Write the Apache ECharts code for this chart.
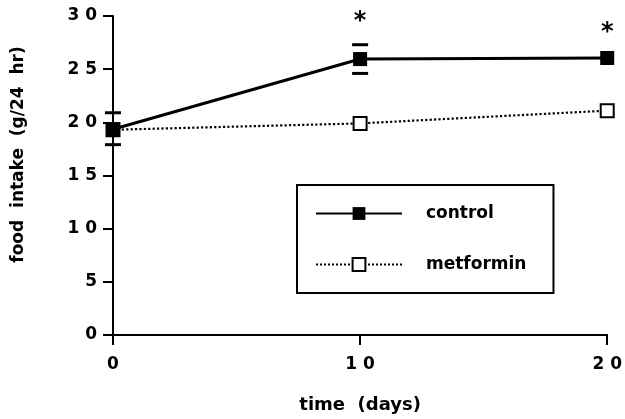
<!DOCTYPE html>
<html>
<head>
<meta charset="utf-8">
<script src="https://cdn.jsdelivr.net/npm/echarts@6/dist/echarts.min.js"></script>
<style>
html,body{margin:0;padding:0;background:#fff;}
#chart{width:625px;height:419px;}
</style>
</head>
<body>
<div id="chart"></div>
<script>
// ---- data ----
const xDays = [0, 10, 20];
const controlMean = [19.35, 25.95, 26.05];
const metforminMean = [19.3, 19.9, 21.1];
const errDays = [0, 10];
const controlLow = [17.9, 24.6];
const controlHigh = [20.9, 27.3];
const starDays = [10, 20];
const starLevel = [29.5, 28.4];
const seriesNames = ['control', 'metformin'];
const xTitle = 'time  (days)';
const yTitle = 'food  intake  (g/24  hr)';

const FONT = 'DejaVu Sans';
const spaced = v => String(v).split('').join(' ');

const chart = echarts.init(document.getElementById('chart'), null, {renderer: 'canvas'});

const option = {
  animation: false,
  backgroundColor: '#fff',
  grid: {left: 113, right: 14, top: 16, bottom: 83},
  legend: {
    left: 297, top: 185, orient: 'vertical',
    data: seriesNames,
    itemWidth: 86, itemHeight: 16, itemGap: 34,
    padding: [20, 27, 20, 18],
    borderColor: '#000', borderWidth: 2, borderRadius: 0,
    textStyle: {fontFamily: FONT, fontWeight: 'bold', fontSize: 17, color: '#000', lineHeight: 16, padding: [0, 0, 0, 19]}
  },
  xAxis: {
    type: 'value', min: 0, max: 20, interval: 10,
    name: xTitle, nameLocation: 'middle', nameGap: 61,
    nameTextStyle: {fontFamily: FONT, fontWeight: 'bold', fontSize: 18, color: '#000'},
    axisLine: {onZero: false, lineStyle: {color: '#000', width: 2}},
    axisTick: {show: true, inside: false, length: 10, lineStyle: {color: '#000', width: 2}},
    axisLabel: {margin: 21, fontFamily: FONT, fontWeight: 'bold', fontSize: 17, color: '#000', formatter: spaced},
    splitLine: {show: false}
  },
  yAxis: {
    type: 'value', min: 0, max: 30, interval: 5,
    name: yTitle, nameLocation: 'middle', nameGap: 86, nameRotate: 90,
    nameTextStyle: {fontFamily: FONT, fontWeight: 'bold', fontSize: 17, color: '#000', padding: [0, 0, 0, 42]},
    axisLine: {show: true, lineStyle: {color: '#000', width: 2}},
    axisTick: {show: true, inside: false, length: 10, lineStyle: {color: '#000', width: 2}},
    axisLabel: {margin: 16, fontFamily: FONT, fontWeight: 'bold', fontSize: 17, color: '#000', formatter: spaced},
    splitLine: {show: false}
  },
  series: [
    {
      name: 'metformin', type: 'line', z: 2,
      data: xDays.map((d, i) => [d, metforminMean[i]]),
      symbol: 'rect', symbolSize: 13,
      lineStyle: {color: '#000', width: 2.2, type: 'dotted'},
      itemStyle: {color: '#fff', borderColor: '#000', borderWidth: 2}
    },
    {
      name: 'control', type: 'line', z: 4,
      data: xDays.map((d, i) => [d, controlMean[i]]),
      symbol: 'rect', symbolSize: 14,
      lineStyle: {color: '#000', width: 3, type: 'solid'},
      itemStyle: {color: '#000', borderColor: '#000', borderWidth: 0}
    },
    {
      name: 'errors', type: 'custom', z: 3,
      data: errDays.map((d, i) => [d, controlLow[i], controlHigh[i]]),
      renderItem: function (params, api) {
        const x = api.value(0);
        const pLo = api.coord([x, api.value(1)]);
        const pHi = api.coord([x, api.value(2)]);
        const hw = 8;
        return {
          type: 'group',
          children: [
            {type: 'line', shape: {x1: pLo[0] - hw, y1: pLo[1], x2: pLo[0] + hw, y2: pLo[1]}, style: {stroke: '#000', lineWidth: 3}},
            {type: 'line', shape: {x1: pHi[0] - hw, y1: pHi[1], x2: pHi[0] + hw, y2: pHi[1]}, style: {stroke: '#000', lineWidth: 3}}
          ]
        };
      }
    },
    {
      name: 'stars', type: 'custom', z: 5,
      data: starDays.map((d, i) => [d, starLevel[i]]),
      renderItem: function (params, api) {
        const p = api.coord([api.value(0), api.value(1)]);
        return {
          type: 'text', x: p[0], y: p[1],
          style: {text: '*', fontFamily: FONT, fontWeight: 'bold', fontSize: 24, fill: '#000', align: 'center', verticalAlign: 'middle'}
        };
      }
    }
  ]
};
chart.setOption(option);
</script>
</body>
</html>
